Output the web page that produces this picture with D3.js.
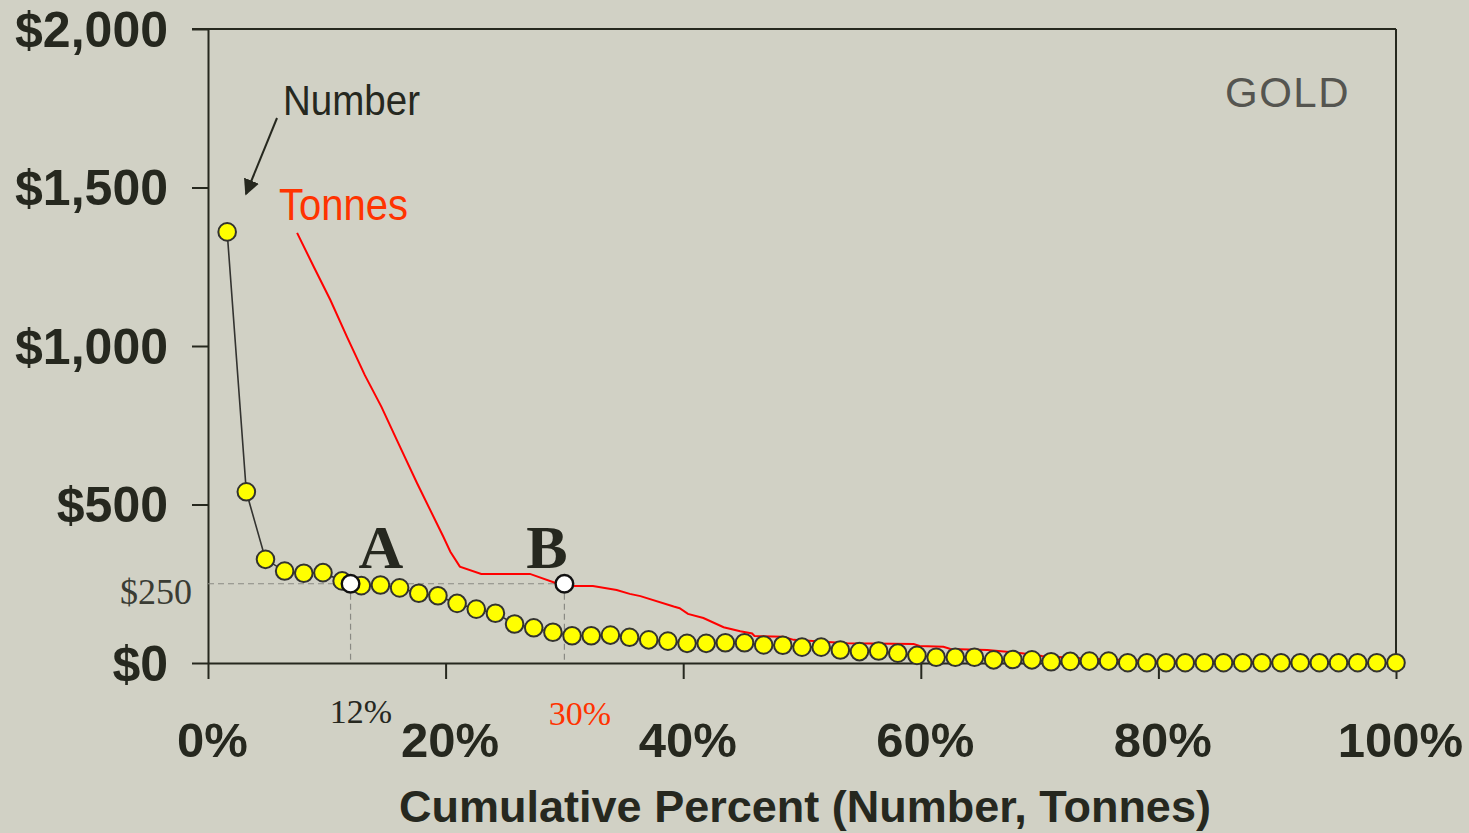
<!DOCTYPE html>
<html>
<head>
<meta charset="utf-8">
<script src="https://cdn.jsdelivr.net/npm/d3@7"></script>
<style>
  html, body { margin: 0; padding: 0; background: #d1d1c5; }
  svg { display: block; }
</style>
</head>
<body>
<svg id="chart" width="1469" height="833"></svg>
<script>
// ---- Data ----
// "Number" series: cumulative percent of mines (i/62), cost $/oz
const numberCount = 62;
const numberCost = [1360, 540, 327, 290, 283, 285, 259, 244, 246, 237,
  220, 212, 188, 170, 157, 123, 111, 97, 86, 86,
  88, 81, 73, 69, 62, 62, 64, 64, 57, 56,
  50, 50, 41, 36, 38, 31, 24, 18, 18, 18,
  10, 11, 10, 4, 5, 6, 6, 1, 1, 1,
  1, 1, 1, 1, 1, 1, 1, 1, 1, 1, 1, 1];
// "Tonnes" series: cumulative percent of tonnes, cost $/oz
const tonnesPct = [7.5, 8.9, 10.3, 11.7, 13.2, 14.6, 15.9, 17.6, 19.8, 20.4,
  21.2, 23.0, 27.1, 29.2, 29.9, 30.8, 32.4, 34.4, 35.5, 36.4,
  39.2, 39.7, 40.4, 41.7, 43.4, 44.8, 45.8, 46.0, 48.4, 49.3,
  53.8, 59.4, 59.9, 61.9, 62.5, 65.6, 68.5, 70.2, 73.4, 79.3, 100];
const tonnesCost = [1357, 1250, 1145, 1029, 908, 808, 703, 567, 399, 351,
  304, 281, 281, 253, 251, 243, 243, 230, 218, 211,
  178, 173, 155, 142, 113, 100, 93, 85, 83, 73,
  62, 60, 54, 51, 44, 41, 31, 22, 15, 6, 0];
// Marked points A (Number) and B (Tonnes) at $250
const markLabels = ["A", "B"];
const markPct = [12, 30];
const markCost = [250, 250];
const markPctLabels = ["12%", "30%"];
const yTicks = [0, 500, 1000, 1500, 2000];
const xTicks = [0, 20, 40, 60, 80, 100];

// ---- Setup ----
const svg = d3.select("#chart");
const ink = "#26281f";
const sans = "'Liberation Sans', Arial, sans-serif";
const serif = "'Liberation Serif', 'Times New Roman', serif";

svg.append("rect").attr("width", 1469).attr("height", 833).attr("fill", "#d1d1c5");

const x = d3.scaleLinear().domain([0, 100]).range([208, 1396]);
const y = d3.scaleLinear().domain([0, 2000]).range([663, 29]);

// Frame (top and right)
svg.append("line").attr("x1", 192).attr("x2", x(100)).attr("y1", y(2000)).attr("y2", y(2000))
  .attr("stroke", ink).attr("stroke-width", 2);
svg.append("line").attr("x1", x(100)).attr("x2", x(100)).attr("y1", y(2000)).attr("y2", y(0))
  .attr("stroke", ink).attr("stroke-width", 2);

// Y axis
const yAxis = svg.append("g").attr("transform", `translate(${x(0)},0)`)
  .call(d3.axisLeft(y).tickValues(yTicks).tickSize(16).tickSizeOuter(0).tickPadding(24)
    .tickFormat(d => "$" + d3.format(",")(d)));
yAxis.select(".domain").attr("stroke", ink).attr("stroke-width", 2);
yAxis.selectAll(".tick line").attr("stroke", ink).attr("stroke-width", 2);
yAxis.selectAll(".tick text").attr("fill", ink).attr("font-family", sans)
  .attr("font-weight", "bold").attr("font-size", 50).attr("dy", "0.34em");

// X axis
const xAxis = svg.append("g").attr("transform", `translate(0,${y(0)})`)
  .call(d3.axisBottom(x).tickValues(xTicks).tickSize(16).tickSizeOuter(0)
    .tickFormat(d => d + "%"));
xAxis.select(".domain").attr("stroke", ink).attr("stroke-width", 2);
xAxis.selectAll(".tick line").attr("stroke", ink).attr("stroke-width", 2);
xAxis.selectAll(".tick text").attr("fill", ink).attr("font-family", sans)
  .attr("font-weight", "bold").attr("font-size", 49)
  .attr("y", 94).attr("dy", 0).attr("dx", 4);

// Axis title
svg.append("text").attr("x", 805).attr("y", 822).attr("text-anchor", "middle")
  .attr("font-family", sans).attr("font-weight", "bold").attr("font-size", 45)
  .attr("fill", ink).text("Cumulative Percent (Number, Tonnes)");

// Dashed reference lines at $250
const dash = svg.append("g").attr("stroke", "#8a8a84").attr("stroke-width", 1.2)
  .attr("stroke-dasharray", "6,4").attr("fill", "none");
dash.append("line").attr("x1", x(0)).attr("x2", x(markPct[1]))
  .attr("y1", y(markCost[0])).attr("y2", y(markCost[0]));
markPct.forEach((p, i) => {
  dash.append("line").attr("x1", x(p)).attr("x2", x(p))
    .attr("y1", y(markCost[i])).attr("y2", y(0));
});

// Tonnes line
const tonnes = tonnesPct.map((p, i) => [p, tonnesCost[i]]);
svg.append("path").datum(tonnes)
  .attr("d", d3.line().x(d => x(d[0])).y(d => y(d[1])))
  .attr("fill", "none").attr("stroke", "#ff0000").attr("stroke-width", 2);

// Number line + markers
const numbers = numberCost.map((c, i) => [(i + 1) / numberCount * 100, c]);
svg.append("path").datum(numbers)
  .attr("d", d3.line().x(d => x(d[0])).y(d => y(d[1])))
  .attr("fill", "none").attr("stroke", "#333330").attr("stroke-width", 1.6);
svg.append("g").selectAll("circle").data(numbers).join("circle")
  .attr("cx", d => x(d[0])).attr("cy", d => y(d[1])).attr("r", 8.8)
  .attr("fill", "#ffff00").attr("stroke", "#333330").attr("stroke-width", 2);

// White marker points A and B
svg.append("g").selectAll("circle").data(markPct).join("circle")
  .attr("cx", d => x(d)).attr("cy", (d, i) => y(markCost[i])).attr("r", 8.8)
  .attr("fill", "#ffffff").attr("stroke", "#111").attr("stroke-width", 2.4);

// A / B letters
const letterX = [381, 547];
svg.append("g").selectAll("text").data(markLabels).join("text")
  .attr("x", (d, i) => letterX[i]).attr("y", 568).attr("text-anchor", "middle")
  .attr("font-family", serif).attr("font-weight", "bold").attr("font-size", 62)
  .attr("fill", ink).text(d => d);

// Percent labels below axis
const pctColors = [ink, "#ff3300"];
const pctX = [361, 580];
svg.append("g").selectAll("text").data(markPctLabels).join("text")
  .attr("x", (d, i) => pctX[i]).attr("y", (d, i) => i === 0 ? 723 : 725)
  .attr("text-anchor", "middle").attr("font-family", serif).attr("font-size", 34)
  .attr("fill", (d, i) => pctColors[i]).text(d => d);

// $250 label
svg.append("text").attr("x", 192).attr("y", 604).attr("text-anchor", "end")
  .attr("font-family", serif).attr("font-size", 36).attr("fill", "#3a3c34").text("$250");

// Series labels
svg.append("text").attr("x", 283).attr("y", 115)
  .attr("font-family", sans).attr("font-size", 43).attr("fill", ink)
  .attr("textLength", 137).attr("lengthAdjust", "spacingAndGlyphs").text("Number");
svg.append("text").attr("x", 279).attr("y", 220)
  .attr("font-family", sans).attr("font-size", 45).attr("fill", "#ff3300")
  .attr("textLength", 129).attr("lengthAdjust", "spacingAndGlyphs").text("Tonnes");

// Arrow from "Number"
svg.append("defs").append("marker").attr("id", "ah")
  .attr("viewBox", "0 0 10 10").attr("refX", 9).attr("refY", 5)
  .attr("markerWidth", 16).attr("markerHeight", 16).attr("orient", "auto")
  .attr("markerUnits", "userSpaceOnUse")
  .append("path").attr("d", "M0,0 L10,5 L0,10 z").attr("fill", ink);
svg.append("line").attr("x1", 277).attr("y1", 118).attr("x2", 246).attr("y2", 194)
  .attr("stroke", ink).attr("stroke-width", 2).attr("marker-end", "url(#ah)");

// GOLD label
svg.append("text").attr("x", 1225).attr("y", 107)
  .attr("font-family", sans).attr("font-size", 42).attr("fill", "#555550")
  .attr("letter-spacing", 1.5).text("GOLD");
</script>
</body>
</html>
